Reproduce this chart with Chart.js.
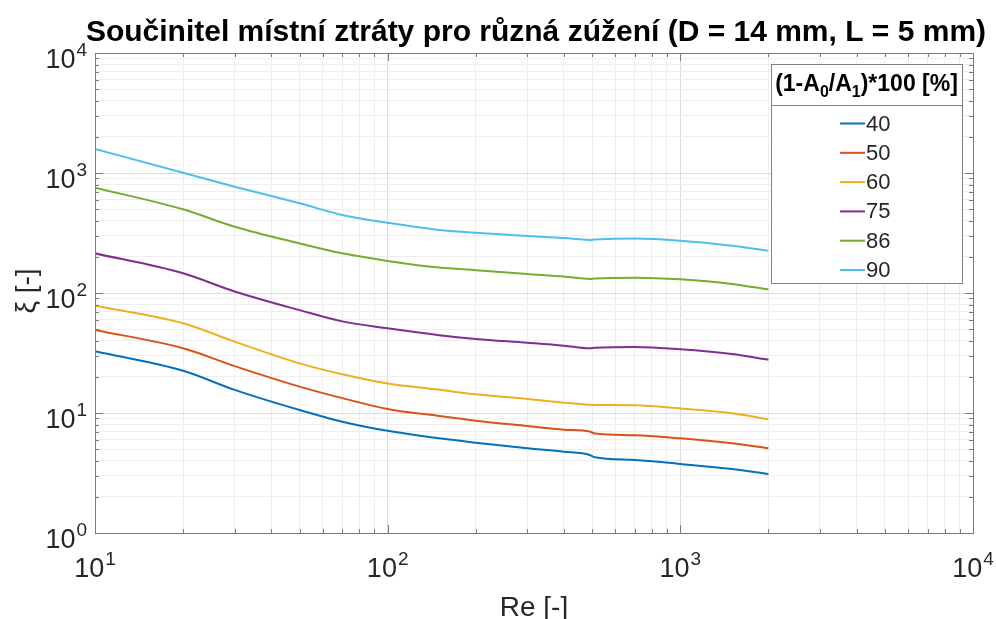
<!DOCTYPE html>
<html>
<head>
<meta charset="utf-8">
<script src="https://cdn.jsdelivr.net/npm/chart.js@4.4.1/dist/chart.umd.min.js"></script>
<style>
  html, body { margin: 0; padding: 0; background: #fff; }
</style>
</head>
<body>
<canvas id="graf" width="996" height="619"></canvas>
<script>
// Reynoldsovo číslo (osa x)
const re = [10, 20, 30, 50, 70, 100, 150, 200, 300, 400, 490, 510, 700, 1000, 1500, 2000];

// součinitel místní ztráty pro jednotlivá zúžení
const xi40 = [32.7, 22.5, 15.6, 10.6, 8.47, 7.1, 6.15, 5.66, 5.08, 4.76, 4.47, 4.28, 4.06, 3.76, 3.41, 3.1];
const xi50 = [49.2, 34.6, 24.6, 16.6, 13.3, 10.8, 9.44, 8.63, 7.79, 7.26, 7.0, 6.75, 6.52, 6.15, 5.59, 5.08];
const xi60 = [78.4, 55.9, 39.3, 25.9, 21, 17.6, 15.6, 14.3, 13.1, 12.2, 11.7, 11.65, 11.6, 10.9, 9.94, 8.86];
const xi75 = [214, 146, 103, 72, 58, 50.8, 44.5, 41.4, 38.5, 36.4, 34.6, 34.9, 35.5, 34, 31, 27.8];
const xi86 = [754, 498, 357, 259, 214, 185, 163, 155, 144, 137, 131, 132, 134, 130, 119, 107];
const xi90 = [1585, 1005, 769, 559, 447, 385, 335, 318, 298, 287, 277, 279, 284, 273, 248, 225];

const popisky = ['40', '50', '60', '75', '86', '90'];
const rady = [xi40, xi50, xi60, xi75, xi86, xi90];
const barvy = ['#0072BD', '#D95319', '#EDB120', '#7E2F8E', '#77AC30', '#4DBEEE'];

// popisky os
const dekadyX = [10, 100, 1000, 10000];
const dekadyY = [1, 10, 100, 1000, 10000];

const PISMO = '"Liberation Sans", Arial, Helvetica, sans-serif';

// všechny ticky logaritmické osy (1..9 x 10^n)
function logTicky(min, max) {
  const t = [];
  for (let d = min; d < max; d *= 10) {
    for (let k = 1; k < 10; k++) t.push({ value: d * k });
  }
  t.push({ value: max });
  return t;
}

function jeDekada(v) {
  const l = Math.log10(v);
  return Math.abs(l - Math.round(l)) < 1e-9;
}

// 10 s exponentem, x = střed nebo pravý okraj
function mocnina(ctx, exp, x, y, zarovnani) {
  ctx.font = '27px ' + PISMO;
  const wb = ctx.measureText('10').width;
  ctx.font = '19px ' + PISMO;
  const we = ctx.measureText(String(exp)).width;
  const w = wb + we + 1;
  let x0 = zarovnani === 'right' ? x - w : x - w / 2;
  ctx.textAlign = 'left';
  ctx.textBaseline = 'alphabetic';
  ctx.fillStyle = '#262626';
  ctx.font = '27px ' + PISMO;
  ctx.fillText('10', x0, y);
  ctx.font = '19px ' + PISMO;
  ctx.fillText(String(exp), x0 + wb + 1, y - 12);
}

const dekorace = {
  id: 'dekorace',
  afterDraw(chart) {
    const ctx = chart.ctx;
    const a = chart.chartArea;
    const sx = chart.scales.x;
    const sy = chart.scales.y;
    ctx.save();

    // rámeček os
    ctx.strokeStyle = '#7a7a7a';
    ctx.lineWidth = 1;
    ctx.strokeRect(Math.round(a.left) + 0.5, Math.round(a.top) + 0.5,
      Math.round(a.right - a.left), Math.round(a.bottom - a.top));

    // ticky dovnitř na všech stranách
    ctx.beginPath();
    sx.ticks.forEach(t => {
      const px = Math.round(sx.getPixelForValue(t.value)) + 0.5;
      const d = jeDekada(t.value) ? 8 : 4;
      ctx.moveTo(px, a.bottom); ctx.lineTo(px, a.bottom - d);
      ctx.moveTo(px, a.top); ctx.lineTo(px, a.top + d);
    });
    sy.ticks.forEach(t => {
      const py = Math.round(sy.getPixelForValue(t.value)) + 0.5;
      const d = jeDekada(t.value) ? 8 : 4;
      ctx.moveTo(a.left, py); ctx.lineTo(a.left + d, py);
      ctx.moveTo(a.right, py); ctx.lineTo(a.right - d, py);
    });
    ctx.stroke();

    // popisky ticků
    dekadyX.forEach(v => {
      mocnina(ctx, Math.round(Math.log10(v)), sx.getPixelForValue(v), a.bottom + 44, 'center');
    });
    dekadyY.forEach(v => {
      mocnina(ctx, Math.round(Math.log10(v)), a.left - 8, sy.getPixelForValue(v) + 15, 'right');
    });

    // nadpis a názvy os
    ctx.fillStyle = '#000';
    ctx.textAlign = 'center';
    ctx.textBaseline = 'alphabetic';
    ctx.font = 'bold 30px ' + PISMO;
    ctx.fillText('Součinitel místní ztráty pro různá zúžení (D = 14 mm, L = 5 mm)', 536, 41);

    ctx.fillStyle = '#262626';
    ctx.font = '28px ' + PISMO;
    ctx.fillText('Re [-]', (a.left + a.right) / 2, 616);

    ctx.save();
    ctx.translate(35, (a.top + a.bottom) / 2 - 2);
    ctx.rotate(-Math.PI / 2);
    ctx.fillText('ξ [-]', 0, 0);
    ctx.restore();

    // legenda
    const lx = 771, ly = 64, lw = 191, lh = 219;
    ctx.fillStyle = '#fff';
    ctx.fillRect(lx, ly, lw, lh);
    ctx.strokeStyle = '#808080';
    ctx.strokeRect(lx + 0.5, ly + 0.5, lw, lh);
    ctx.beginPath();
    ctx.moveTo(lx, ly + 41.5); ctx.lineTo(lx + lw, ly + 41.5);
    ctx.stroke();

    // nadpis legendy s indexy
    const casti = [['(1-A', 0], ['0', 1], ['/A', 0], ['1', 1], [')*100 [%]', 0]];
    let sirka = 0;
    casti.forEach(([t, sub]) => {
      ctx.font = 'bold ' + (sub ? 16 : 23) + 'px ' + PISMO;
      sirka += ctx.measureText(t).width;
    });
    let tx = lx + lw / 2 - sirka / 2;
    ctx.fillStyle = '#000';
    ctx.textAlign = 'left';
    casti.forEach(([t, sub]) => {
      ctx.font = 'bold ' + (sub ? 16 : 23) + 'px ' + PISMO;
      ctx.fillText(t, tx, sub ? ly + 33 : ly + 27);
      tx += ctx.measureText(t).width;
    });

    chart.data.datasets.forEach((ds, i) => {
      const yy = 123.5 + i * 29.3;
      ctx.strokeStyle = ds.borderColor;
      ctx.lineWidth = 2;
      ctx.beginPath();
      ctx.moveTo(840, yy); ctx.lineTo(865, yy);
      ctx.stroke();
      ctx.fillStyle = '#262626';
      ctx.font = '22px ' + PISMO;
      ctx.textBaseline = 'middle';
      ctx.fillText(ds.label, 866, yy + 1);
    });

    ctx.restore();
  }
};

const mrizka = {
  display: true,
  drawTicks: false,
  lineWidth: 1,
  color: c => (c.tick && jeDekada(c.tick.value)) ? '#dcdcdc' : '#eeeeee'
};

new Chart(document.getElementById('graf').getContext('2d'), {
  type: 'line',
  data: {
    datasets: rady.map((r, i) => ({
      label: popisky[i],
      data: re.map((x, j) => ({ x: x, y: r[j] })),
      borderColor: barvy[i],
      backgroundColor: barvy[i],
      borderWidth: 2,
      pointRadius: 0,
      cubicInterpolationMode: 'monotone',
      fill: false
    }))
  },
  options: {
    responsive: false,
    animation: false,
    layout: { padding: { left: 95, right: 23, top: 53, bottom: 86 } },
    plugins: {
      legend: { display: false },
      title: { display: false },
      tooltip: { enabled: false }
    },
    scales: {
      x: {
        type: 'logarithmic',
        min: 10,
        max: 10000,
        afterBuildTicks: s => { s.ticks = logTicky(10, 10000); },
        ticks: { display: false },
        border: { display: false },
        grid: mrizka
      },
      y: {
        type: 'logarithmic',
        min: 1,
        max: 10000,
        afterBuildTicks: s => { s.ticks = logTicky(1, 10000); },
        ticks: { display: false },
        border: { display: false },
        grid: mrizka
      }
    }
  },
  plugins: [dekorace]
});
</script>
</body>
</html>
